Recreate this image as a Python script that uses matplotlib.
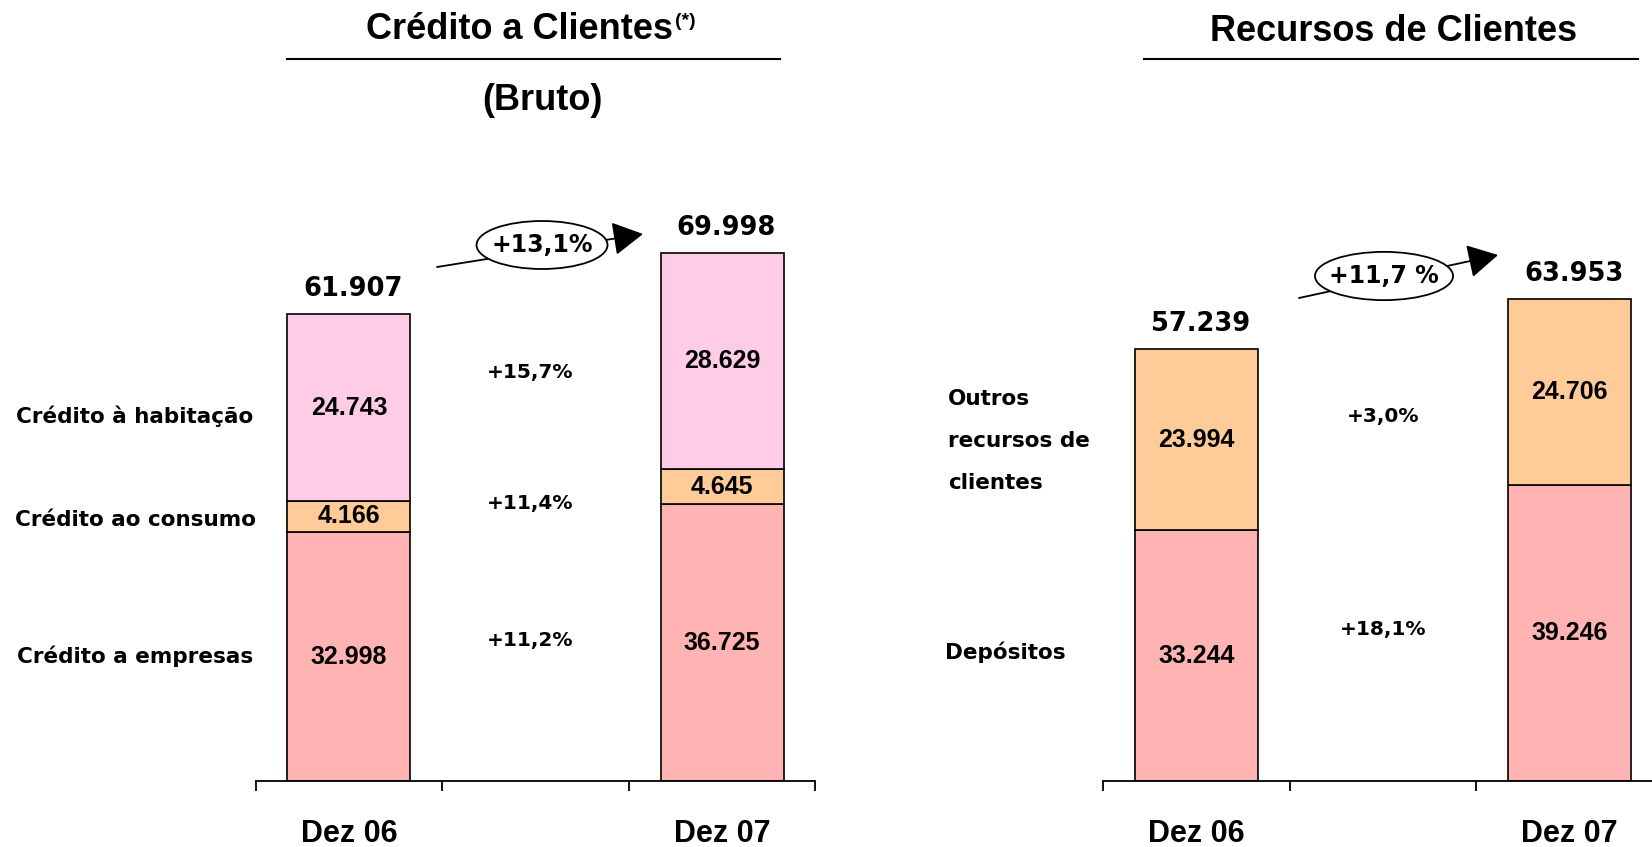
import matplotlib
matplotlib.use('Agg')
import matplotlib.pyplot as plt
from matplotlib import font_manager
from matplotlib.patches import Ellipse
from matplotlib.lines import Line2D

# fonts: narrow bold for numbers/ticks if available
installed = {f.name for f in font_manager.fontManager.ttflist}
HAS_NARROW = 'Liberation Sans Narrow' in installed
NARROW = 'Liberation Sans Narrow' if HAS_NARROW else 'Liberation Sans'
ARIAL = 'Liberation Sans'
VERDANA = 'DejaVu Sans'

# --- data ---
periods = ['Dez 06', 'Dez 07']

credit_series = ['Crédito a empresas', 'Crédito ao consumo', 'Crédito à habitação']
credit_values = [[32998, 36725], [4166, 4645], [24743, 28629]]
credit_totals = [61907, 69998]
credit_growth = ['+11,2%', '+11,4%', '+15,7%']
credit_total_growth = '+13,1%'

funds_series = ['Depósitos', 'Outros\nrecursos de\nclientes']
funds_values = [[33244, 39246], [23994, 24706]]
funds_totals = [57239, 63953]
funds_growth = ['+18,1%', '+3,0%']
funds_total_growth = '+11,7 %'

credit_colors = ['#FFB3B3', '#FFCC99', '#FFCCE6']
funds_colors = ['#FFB3B3', '#FFCC99']


def fmt(v):
    return f'{v:,}'.replace(',', '.')


W, H = 1652, 847
fig = plt.figure(figsize=(W / 100, H / 100), dpi=100)

YMAX = 80000
ax_h = YMAX * 0.00754 / H
ax1 = fig.add_axes([255.6 / W, 66 / H, 3 * 186.6 / W, ax_h])
ax2 = fig.add_axes([1103 / W, 66 / H, 3 * 186.6 / W, ax_h])

bar_x = [0.5, 2.5]
num_size = 21 if HAS_NARROW else 18
tick_size = 26 if HAS_NARROW else 22


def stacked(ax, values, colors, totals, width):
    bottoms = [0, 0]
    for vals, col in zip(values, colors):
        ax.bar(bar_x, vals, width=width, bottom=bottoms, color=col,
               edgecolor='black', linewidth=1.2, zorder=2)
        for x, v, b in zip(bar_x, vals, bottoms):
            ax.text(x, b + v / 2, fmt(v), ha='center', va='center',
                    fontsize=num_size, fontweight='bold', family=NARROW)
        bottoms = [b + v for b, v in zip(bottoms, vals)]
    for x, t in zip(bar_x, totals):
        ax.annotate(fmt(t), (x, t), xytext=(3, 13), textcoords='offset points',
                    ha='center', va='baseline', fontsize=18.5, fontweight='bold',
                    family=VERDANA)

    ax.set_xlim(0, 3)
    ax.set_ylim(0, YMAX)
    for s in ['top', 'left', 'right']:
        ax.spines[s].set_visible(False)
    ax.spines['bottom'].set_linewidth(1.3)
    ax.set_yticks([])
    ax.set_xticks([0, 1, 2, 3])
    ax.set_xticklabels([])
    ax.tick_params(axis='x', which='major', direction='out', length=7.5, width=1.3)
    ax.set_xticks(bar_x, minor=True)
    ax.set_xticklabels(periods, minor=True, fontsize=tick_size,
                       fontweight='bold', family=NARROW)
    ax.tick_params(axis='x', which='minor', length=0, pad=27)
    ax.patch.set_visible(False)


def growth_arrow(ax, start, end, center, size, label):
    ax.annotate('', xy=end, xytext=start,
                arrowprops=dict(arrowstyle='-|>,head_length=0.9,head_width=0.5',
                                mutation_scale=21, color='black', lw=1.3,
                                shrinkA=0, shrinkB=0), zorder=3)
    ax.add_patch(Ellipse(center, size[0], size[1], facecolor='white',
                         edgecolor='black', linewidth=1.3, zorder=4))
    ax.text(center[0], center[1], label, ha='center', va='center', fontsize=17,
            fontweight='bold', family=VERDANA, zorder=5)


# --- Crédito a Clientes ---
stacked(ax1, credit_values, credit_colors, credit_totals, 0.66)
for lab, yy in zip(credit_series, [16578, 34615, 48408]):
    ax1.text(-0.646, yy, lab, ha='center', va='center', fontsize=15.5,
             fontweight='bold', family=VERDANA)
for g, yy in zip(credit_growth, [18568, 36870, 54244]):
    ax1.text(1.47, yy, g, ha='center', va='center', fontsize=14.5,
             fontweight='bold', family=VERDANA)
growth_arrow(ax1, (0.972, 68170), (2.076, 72546), (1.535, 71088),
             (0.702, 6366), credit_total_growth)

# --- Recursos de Clientes ---
stacked(ax2, funds_values, funds_colors, funds_totals, 0.66)
ax2.text(-0.847, 17109, funds_series[0], ha='left', va='center', fontsize=15.5,
         fontweight='bold', family=VERDANA)
ax2.text(-0.831, 45093, funds_series[1], ha='left', va='center', fontsize=15.5,
         fontweight='bold', family=VERDANA, linespacing=2.4)
for g, yy in zip(funds_growth, [20159, 48276]):
    ax2.text(1.5, yy, g, ha='center', va='center', fontsize=14.5,
             fontweight='bold', family=VERDANA)
growth_arrow(ax2, (1.05, 64058), (2.117, 69761), (1.506, 66976),
             (0.74, 6400), funds_total_growth)

# --- titles ---
fig.text(520 / W, 1 - 29.5 / H, 'Crédito a Clientes', ha='center',
         va='center', fontsize=26, fontweight='bold', family=ARIAL)
fig.text(675 / W, 1 - 22 / H, '(*)', ha='left', va='center', fontsize=14,
         fontweight='bold', family=ARIAL)
fig.text(542 / W, 1 - 100 / H, '(Bruto)', ha='center', va='center',
         fontsize=26, fontweight='bold', family=ARIAL)
fig.text(1394 / W, 1 - 31.6 / H, 'Recursos de Clientes', ha='center',
         va='center', fontsize=26, fontweight='bold', family=ARIAL)

fig.add_artist(Line2D([287 / W, 780 / W], [1 - 59 / H, 1 - 59 / H],
                      color='black', linewidth=1.5))
fig.add_artist(Line2D([1144 / W, 1638 / W], [1 - 59 / H, 1 - 59 / H],
                      color='black', linewidth=1.5))

fig.savefig('out.png', dpi=100, facecolor='white')
